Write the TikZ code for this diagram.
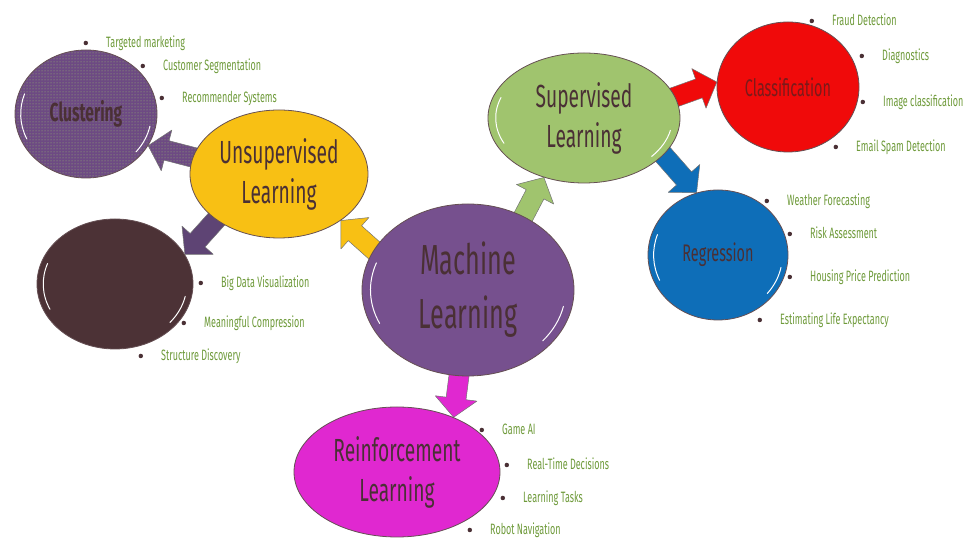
\documentclass[tikz,border=0pt]{standalone}
\usepackage{fontspec}
\newfontfamily\handfont[FakeStretch=0.6]{Fira Sans}
\usetikzlibrary{
    calc,
    backgrounds,
    patterns,
    shapes.geometric
}

\definecolor{mlpurple}{HTML}{76508E}
\definecolor{unsupyellow}{HTML}{F8C014}
\definecolor{supgreen}{HTML}{A0C46E}
\definecolor{classred}{HTML}{F00A0A}
\definecolor{regrblue}{HTML}{0E6EB8}
\definecolor{reinfmagenta}{HTML}{E028D0}
\definecolor{darkbrown}{HTML}{4C3236}
\definecolor{darkarrow}{HTML}{5E4474}
\definecolor{clustgreen}{HTML}{9CC070}
\definecolor{itemgreen}{HTML}{6E9A3A}
\definecolor{labelbrown}{HTML}{4A3035}
\definecolor{classtext}{HTML}{7A1A1A}

% block arrow: [fill] {tail} {tip}
\newcommand{\blockarrow}[3][]{%
    \coordinate (ba-tail) at ($(#2)!-8pt!(#3)$);
    \coordinate (ba-neck) at ($(#3)!19pt!(#2)$);
    \path[blockarrow, #1]
        ($(ba-tail)!10pt!90:(#3)$) -- ($(ba-neck)!10pt!90:(#3)$)
        -- ($(ba-neck)!21pt!90:(#3)$) -- (#3)
        -- ($(ba-neck)!21pt!-90:(#3)$) -- ($(ba-neck)!10pt!-90:(#3)$)
        -- ($(ba-tail)!10pt!-90:(#3)$) -- cycle;
}

\begin{document}
\begin{tikzpicture}[
        x=1pt, y=1pt,
        bubble/.style={
            ellipse,
            draw=labelbrown!85,
            line width=0.8pt,
            inner sep=0pt,
            align=center,
            text=labelbrown
        },
        bigtext/.style={font=\handfont\fontsize{32pt}{40pt}\selectfont},
        boldtext/.style={font=\handfont\bfseries\fontsize{26pt}{30pt}\selectfont},
        clustfill/.style={
            preaction={fill=mlpurple!92!black},
            pattern=dots,
            pattern color=clustgreen
        },
        item/.style={
            anchor=west,
            inner sep=0pt,
            text height=10pt,
            text depth=0pt,
            text=itemgreen,
            font=\handfont\fontsize{15pt}{18pt}\selectfont,
            label={[circle, fill=labelbrown, inner sep=0pt,
                    minimum size=4.5pt, label distance=17.75pt]left:{}}
        },
        blockarrow/.style={
            draw=black!55,
            line width=0.5pt,
            line join=round
        },
        gloss/.style={draw=white, line width=1pt, line cap=round}
    ]
    \useasboundingbox (0,0) rectangle (975,548);

    \node[bubble, fill=mlpurple, minimum width=212pt, minimum height=172pt,
          font=\handfont\fontsize{42pt}{54pt}\selectfont]
        (ml) at (468,258) {Machine\\Learning};
    \node[bubble, bigtext, fill=unsupyellow, minimum width=178pt, minimum height=128pt]
        (unsup) at (279,374) {Unsupervised\\Learning};
    \node[bubble, bigtext, fill=supgreen, minimum width=192pt, minimum height=130pt]
        (sup) at (584,430) {Supervised\\Learning};
    \node[bubble, bigtext, fill=reinfmagenta, minimum width=206pt, minimum height=130pt]
        (reinf) at (397,76) {Reinforcement\\Learning};

    \node[bubble, boldtext, clustfill, minimum width=142pt, minimum height=128pt]
        (clust) at (86,434) {Clustering};
    \node[bubble, fill=darkbrown, minimum width=156pt, minimum height=130pt]
        (dark) at (115,264) {};
    \node[bubble, fill=classred, text=classtext, minimum width=142pt,
          minimum height=130pt, font=\handfont\fontsize{24pt}{28pt}\selectfont]
        (class) at (788,461) {Classification};
    \node[bubble, fill=regrblue, minimum width=140pt, minimum height=130pt,
          font=\handfont\fontsize{24pt}{28pt}\selectfont]
        (regr) at (718,293) {Regression};

    \foreach \n/\rx/\ry in {ml/106/86, clust/71/64, dark/78/65, sup/96/65, regr/70/65} {
        \draw[gloss] (\n.center) ++(160:{0.92*\rx} and {0.92*\ry})
            arc[start angle=160, end angle=205, x radius=0.92*\rx, y radius=0.92*\ry];
        \draw[gloss] (\n.center) ++(-40:{0.92*\rx} and {0.92*\ry})
            arc[start angle=-40, end angle=-12, x radius=0.92*\rx, y radius=0.92*\ry];
    }

    \node[item] (tm) at (106,505) {Targeted marketing};
    \node[item] (cs) at (163,482) {Customer Segmentation};
    \node[item] (rs) at (182,450) {Recommender Systems};

    \node[item] (bdv) at (221,265) {Big Data Visualization};
    \node[item] (mc) at (204,225) {Meaningful Compression};
    \node[item] (sd) at (161,192) {Structure Discovery};

    \node[item] (fd) at (832,527) {Fraud Detection};
    \node[item] (dg) at (882,492) {Diagnostics};
    \node[item] (ic) at (883,446) {Image classification};
    \node[item] (esd) at (856,401) {Email Spam Detection};

    \node[item] (wf) at (787,347) {Weather Forecasting};
    \node[item] (ra) at (810,314) {Risk Assessment};
    \node[item] (hpp) at (810,271) {Housing Price Prediction};
    \node[item] (ele) at (780,228) {Estimating Life Expectancy};

    \node[item] (gai) at (502,118) {Game AI};
    \node[item] (rtd) at (527,83) {Real-Time Decisions};
    \node[item] (lt) at (523,50) {Learning Tasks};
    \node[item] (rn) at (490,18) {Robot Navigation};

    \begin{scope}[on background layer]
        \blockarrow[fill=unsupyellow]{ml.157}{unsup.-37}
        \blockarrow[fill=supgreen]{ml.53}{sup.236}
        \blockarrow[fill=reinfmagenta]{ml.264}{reinf.44}
        \blockarrow[clustfill]{unsup.169}{clust.-27}
        \blockarrow[fill=darkarrow]{unsup.216}{dark.23}
        \blockarrow[fill=classred]{sup.13}{class.176}
        \blockarrow[fill=regrblue]{sup.-25}{regr.109}
    \end{scope}

\end{tikzpicture}
\end{document}
